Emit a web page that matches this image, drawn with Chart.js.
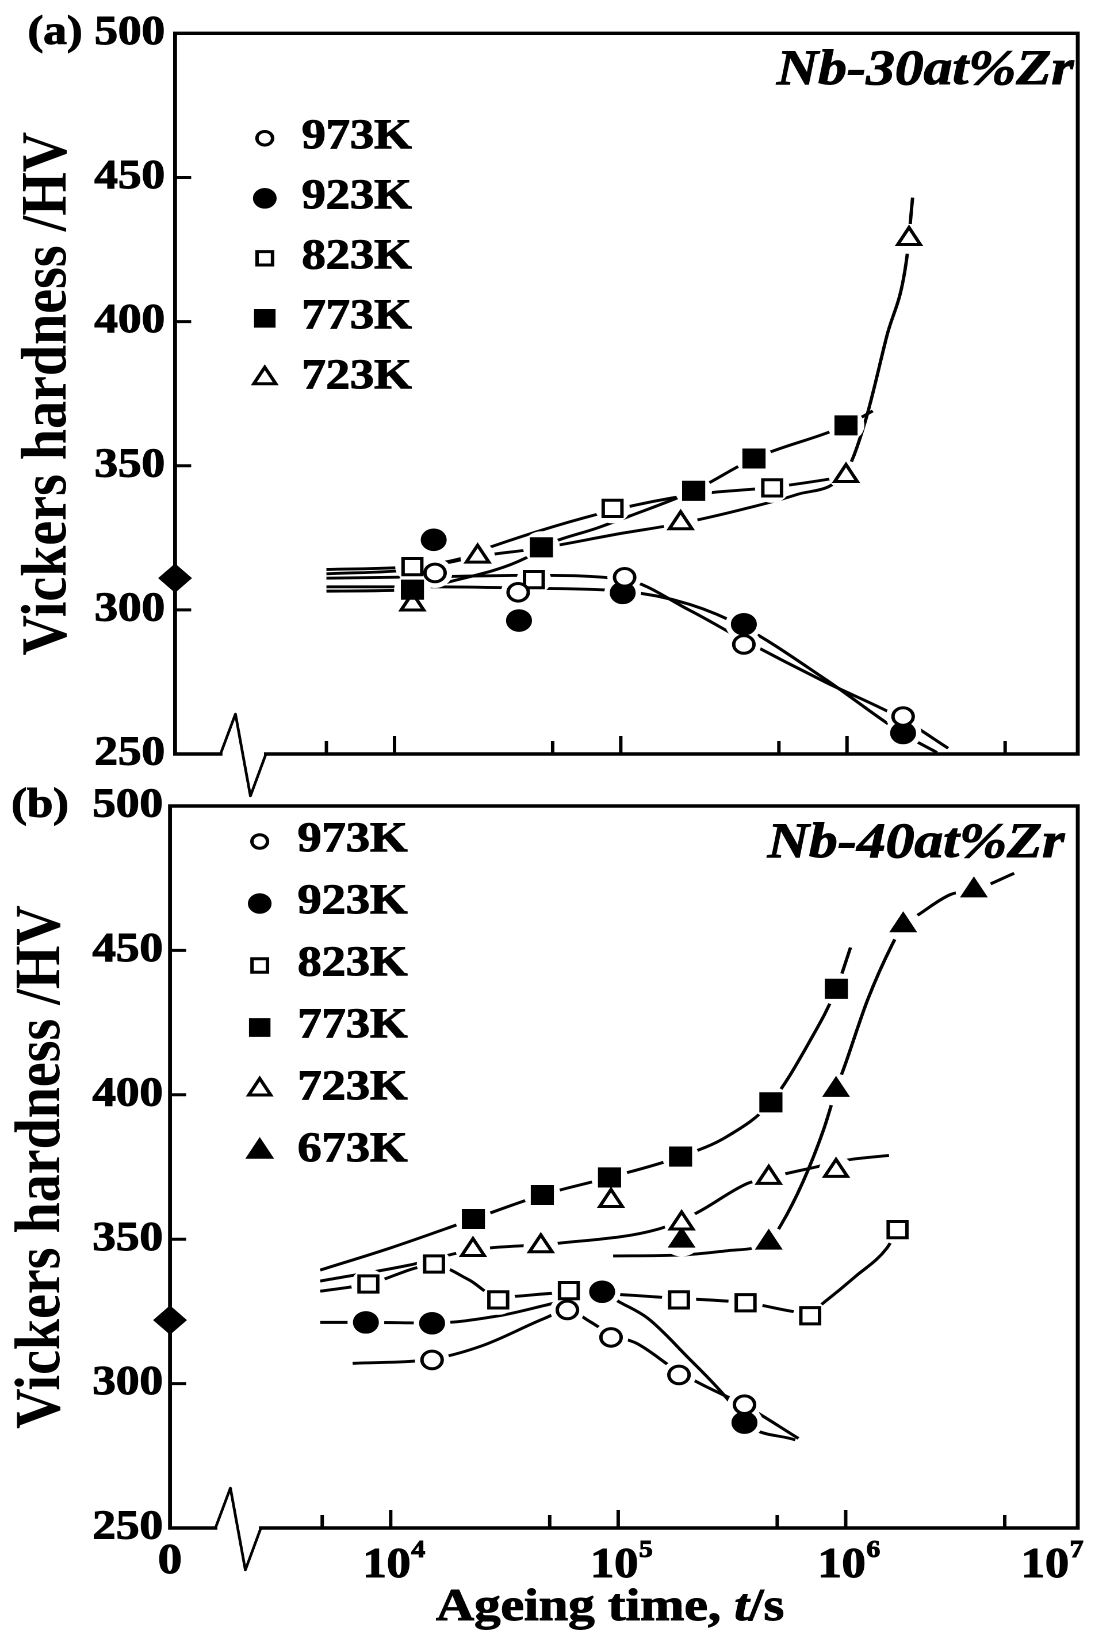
<!DOCTYPE html>
<html lang="en">
<head>
<meta charset="utf-8">
<title>Vickers hardness vs ageing time (Nb-Zr)</title>
<script src="https://cdn.jsdelivr.net/npm/chart.js@4.4.1/dist/chart.umd.min.js"></script>
<style>
  html, body { margin: 0; padding: 0; background: #fff; }
  body { position: relative; width: 1095px; height: 1640px; overflow: hidden; }
  canvas { position: absolute; left: 0; }
</style>
</head>
<body>
<canvas id="chartA" width="952" height="800" style="top:0px;width:1095px;height:800px"></canvas>
<canvas id="chartB" width="952" height="880" style="top:760px;width:1095px;height:880px"></canvas>
<script>
// ------------------------------------------------------------------
// DATA
// ------------------------------------------------------------------
const xTickValues = [5e3, 1e4, 5e4, 1e5, 5e5, 1e6, 5e6, 1e7];
const xTickLabels = ['', '10^4', '', '10^5', '', '10^6', '', '10^7'];
const xOriginLabel = '0';
const yTickValues = [250, 300, 350, 400, 450, 500];
const yTickLabels = ['250', '300', '350', '400', '450', '500'];
const yTitle = 'Vickers hardness /HV';
const xTitleParts = ['Ageing time, ', 't', '/s'];
const seriesA = ['973K', '923K', '823K', '773K', '723K'];
const seriesB = ['973K', '923K', '823K', '773K', '723K', '673K'];
const alloyA = 'Nb-30at%Zr';
const alloyB = 'Nb-40at%Zr';
const asQuenchedA = 311;   // hardness at t = 0 (diamond on the axis)
const asQuenchedB = 322;

// Panel (a) Nb-30at%Zr : measured points [t / s, HV]
const a973 = [[1.51e4, 312.8], [3.52e4, 306.1], [1.04e5, 311.3], [3.5e5, 288.0], [1.77e6, 263.0]];
const a923 = [[1.49e4, 324.3], [3.55e4, 296.3], [1.02e5, 305.9], [3.5e5, 295.0], [1.77e6, 257.3]];
const a823 = [[1.2e4, 315.0], [4.13e4, 310.5], [9.2e4, 335.2], [4.67e5, 342.3]];
const a773 = [[1.2e4, 307.0], [4.46e4, 321.7], [2.1e5, 341.3], [3.88e5, 352.5], [9.9e5, 364.0]];
const a723 = [[1.2e4, 301.9], [2.33e4, 318.5], [1.84e5, 330.1], [9.9e5, 346.5], [1.88e6, 428.7]];

// Panel (a) : hand-drawn trend curves
const a973Curve = [[5e3, 311], [1.5e4, 311.5], [4e4, 312], [1.04e5, 310.5], [2e5, 300], [3.5e5, 289.5], [8e5, 275], [1.77e6, 262], [2.8e6, 252]];
const a923Curve = [[5e3, 308], [1.5e4, 308], [4e4, 307.5], [1.02e5, 306.5], [2e5, 302], [3.5e5, 294], [8e5, 276], [1.77e6, 257], [2.5e6, 250.5]];
const a823Curve = [[5e3, 314], [1.2e4, 315], [2e4, 318], [2.7e4, 322], [9.2e4, 334.5], [2.1e5, 340], [4.67e5, 342.5], [9.5e5, 346]];
const a773Curve = [[5e3, 306.5], [1.2e4, 307], [1.7e4, 309.5], [3.8e4, 318], [4.46e4, 321.7], [8e4, 328.6], [1.1e5, 332.6], [2.1e5, 341.3], [3.88e5, 352.5], [9.9e5, 364], [1.3e6, 369]];
const a723Curve = [[5e3, 312.5], [1.2e4, 314], [2.33e4, 318.5], [4.5e4, 321.5], [1e5, 326.5], [1.84e5, 330], [3.5e5, 335], [6e5, 340], [9.9e5, 348], [1.2e6, 365], [1.5e6, 395], [1.83e6, 421], [1.95e6, 443]];

// Panel (b) Nb-40at%Zr : measured points [t / s, HV]
const b973 = [[1.52e4, 308.2], [5.98e4, 325.5], [9.3e4, 316.0], [1.85e5, 303.0], [3.59e5, 292.7]];
const b923 = [[7.78e3, 321.2], [1.52e4, 320.9], [8.5e4, 331.8], [3.59e5, 286.5]];
const b823 = [[7.98e3, 334.5], [1.55e4, 341.4], [2.97e4, 329.0], [6.07e4, 332.2], [1.85e5, 329.0], [3.63e5, 328.0], [6.98e5, 323.5], [1.69e6, 353.3]];
const b773 = [[2.31e4, 357.0], [4.64e4, 365.3], [9.16e4, 371.4], [1.88e5, 378.6], [4.69e5, 397.4], [9.1e5, 436.7]];
const b723 = [[2.3e4, 346.3], [4.57e4, 347.6], [9.3e4, 363.3], [1.9e5, 355.5], [4.59e5, 371.3], [9.07e5, 373.7]];
const b673 = [[1.9e5, 349.5], [4.59e5, 348.8], [9.07e5, 401.7], [1.79e6, 458.7], [3.66e6, 470.8]];

// Panel (b) : hand-drawn trend curves
const b973Curve = [[6.8e3, 307], [1.52e4, 308.5], [2.5e4, 313], [4.75e4, 322.6], [5.98e4, 325.5], [7.5e4, 321.5], [9.3e4, 317], [1.2e5, 314], [1.85e5, 304], [2.5e5, 298.5], [3.59e5, 292.5], [6.2e5, 281]];
const b923Curve = [[4.9e3, 321.2], [7.78e3, 321.2], [1.52e4, 321], [3e4, 323.5], [5e4, 327.5], [8.5e4, 331.8], [1e5, 328.5], [1.35e5, 322.6], [2e5, 309.5], [3.07e5, 294], [3.59e5, 286.5], [6e5, 280.5]];
const b823Curve = [[4.9e3, 332], [7.98e3, 334.5], [1.55e4, 341], [2.2e4, 336], [2.97e4, 330], [6.07e4, 331.5], [1.85e5, 329.5], [3.63e5, 328], [6.98e5, 324.5], [8e5, 328], [1.1e6, 337], [1.52e6, 347], [1.69e6, 353.3]];
const b773Curve = [[4.9e3, 339.3], [1e4, 347], [2.31e4, 357], [4.64e4, 365.3], [9.16e4, 371.4], [1.88e5, 378.6], [3e5, 385.5], [4.69e5, 397.4], [7e5, 419], [9.1e5, 436.7], [1.05e6, 451]];
const b723Curve = [[4.9e3, 335.5], [1.2e4, 341], [2.3e4, 346.3], [5.5e4, 348.6], [1.5e5, 353.5], [2.2e5, 359], [3.7e5, 369.3], [4.59e5, 371.3], [7.4e5, 375], [1.05e6, 377.6], [1.55e6, 379]];
const b673Curve = [[9.5e4, 344.2], [1.88e5, 344.5], [3e5, 346], [4.59e5, 349], [5.2e5, 355], [6.5e5, 370], [8e5, 388], [9.07e5, 401.7], [1e6, 411], [1.25e6, 433], [1.6e6, 452], [1.79e6, 458.7], [2.1e6, 462.5], [2.9e6, 469.4], [3.66e6, 470.8], [5.5e6, 476.7]];

// ------------------------------------------------------------------
// STYLE / LAYOUT
// ------------------------------------------------------------------
const FONT = '"Liberation Serif", "Times New Roman", Times, serif';
Chart.defaults.font.family = FONT;
Chart.defaults.color = '#000';

const X_MIN = Math.pow(10, 3.03);
const X_MAX = Math.pow(10, 7.02);
const BREAK = [39.5, 52.5, 65.5, 79];   // axis-break zigzag, offsets from left axis
const BREAK_UP = 40, BREAK_DOWN = 42;
const TEXT_STROKE = 0.9;                // slight emboldening of the bold serif

const markerStyle = {
  '973K': { pointStyle: 'circle',   filled: false, r: 8.8,  lr: 6.8,  halo: 15 },
  '923K': { pointStyle: 'circle',   filled: true,  r: 10.8, lr: 9.8,  halo: 16 },
  '823K': { pointStyle: 'rect',     filled: false, r: 11.5, lr: 9.5,  halo: 15 },
  '773K': { pointStyle: 'rect',     filled: true,  r: 13.5, lr: 12.5, halo: 16 },
  '723K': { pointStyle: 'triangle', filled: false, r: 11.3, lr: 11,   halo: 15 },
  '673K': { pointStyle: 'triangle', filled: true,  r: 13,   lr: 13.5, halo: 16 }
};

const toXY = arr => arr.map(p => ({ x: p[0], y: p[1] }));

function buildDatasets(labels, points, curves, asQuenched) {
  const ds = [];
  labels.forEach((lab, i) => {
    ds.push({
      kind: 'fit', label: lab + ' trend', data: toXY(curves[i]),
      borderColor: '#000', borderWidth: 2.9, pointRadius: 0,
      cubicInterpolationMode: 'monotone', fill: false, order: 2
    });
  });
  labels.forEach((lab, i) => {
    const st = markerStyle[lab];
    ds.push({
      kind: 'pts', label: lab, data: toXY(points[i]), showLine: false,
      pointStyle: st.pointStyle, pointRadius: st.r,
      pointBackgroundColor: st.filled ? '#000' : '#fff',
      pointBorderColor: '#000', pointBorderWidth: st.filled ? 1 : 3,
      filled: st.filled, legendRadius: st.lr, haloRadius: st.halo, order: 1
    });
  });
  ds.push({
    kind: 'start', label: 'as-quenched (t = 0)', data: [{ x: X_MIN, y: asQuenched }],
    showLine: false, pointStyle: 'rectRot', pointRadius: 14,
    pointBackgroundColor: '#000', pointBorderColor: '#000', pointBorderWidth: 1,
    clip: false, order: 0
  });
  return ds;
}

function drawSymbol(ctx, style, x, y, r, filled) {
  ctx.beginPath();
  if (style === 'circle') {
    ctx.arc(x, y, r, 0, Math.PI * 2);
  } else if (style === 'rect') {
    const s = r * Math.SQRT1_2;
    ctx.rect(x - s, y - s, 2 * s, 2 * s);
  } else {
    ctx.moveTo(x, y - r);
    ctx.lineTo(x + r * 0.866, y + r * 0.5);
    ctx.lineTo(x - r * 0.866, y + r * 0.5);
    ctx.closePath();
  }
  ctx.fillStyle = filled ? '#000' : '#fff';
  ctx.fill();
  ctx.lineWidth = filled ? 1 : 3;
  ctx.strokeStyle = '#000';
  ctx.stroke();
}

function boldText(ctx, txt, x, y) {
  ctx.fillText(txt, x, y);
  ctx.lineWidth = TEXT_STROKE;
  ctx.strokeStyle = '#000';
  ctx.strokeText(txt, x, y);
}

function makePanelPlugin(cfg) {
  return {
    id: 'panel',
    beforeDatasetsDraw(chart) {
      chart.$haloDone = false;
      const ctx = chart.ctx;
      const { left, right, top, bottom } = chart.chartArea;
      const xs = chart.scales.x, ys = chart.scales.y;
      ctx.save();
      ctx.strokeStyle = '#000';
      // frame
      ctx.lineWidth = 3.4; ctx.lineJoin = 'miter'; ctx.lineCap = 'square';
      ctx.beginPath();
      ctx.moveTo(left + BREAK[0], bottom);
      ctx.lineTo(left, bottom);
      ctx.lineTo(left, top);
      ctx.lineTo(right, top);
      ctx.lineTo(right, bottom);
      ctx.lineTo(left + BREAK[3], bottom);
      ctx.stroke();
      // axis break
      ctx.lineWidth = 2.4; ctx.lineJoin = 'round'; ctx.lineCap = 'round';
      ctx.beginPath();
      ctx.moveTo(left + BREAK[0], bottom);
      ctx.lineTo(left + BREAK[1], bottom - BREAK_UP);
      ctx.lineTo(left + BREAK[2], bottom + BREAK_DOWN);
      ctx.lineTo(left + BREAK[3], bottom);
      ctx.stroke();
      // inward ticks
      ctx.lineWidth = 3; ctx.lineCap = 'butt';
      ctx.beginPath();
      yTickValues.forEach(v => {
        const y = ys.getPixelForValue(v);
        if (y > top + 3 && y < bottom - 3) { ctx.moveTo(left, y); ctx.lineTo(left + 14, y); }
      });
      xTickValues.forEach(v => {
        const x = xs.getPixelForValue(v);
        if (x > left + BREAK[3] && x < right - 6) {
          const e = Math.log10(v);
          const major = Math.abs(e - Math.round(e)) < 1e-9;
          ctx.moveTo(x, bottom); ctx.lineTo(x, bottom - (major ? 18 : 13));
        }
      });
      ctx.stroke();
      ctx.restore();
    },
    beforeDatasetDraw(chart, args) {
      const ds = chart.data.datasets[args.index];
      if (ds.kind !== 'pts' || chart.$haloDone) return;
      chart.$haloDone = true;
      const ctx = chart.ctx;
      const { left, right, top, bottom } = chart.chartArea;
      ctx.save();
      ctx.beginPath();
      ctx.rect(left + 3, top + 3, right - left - 6, bottom - top - 6);
      ctx.clip();
      ctx.fillStyle = '#fff';
      chart.data.datasets.forEach((d, i) => {
        if (d.kind !== 'pts') return;
        chart.getDatasetMeta(i).data.forEach(el => {
          ctx.beginPath();
          ctx.arc(el.x, el.y, d.haloRadius, 0, Math.PI * 2);
          ctx.fill();
        });
      });
      ctx.restore();
    },
    afterDatasetsDraw(chart) {
      const ctx = chart.ctx;
      const { left, right, top, bottom } = chart.chartArea;
      const xs = chart.scales.x;
      ctx.save();
      ctx.textBaseline = 'alphabetic';
      // legend
      const pts = chart.data.datasets.filter(d => d.kind === 'pts');
      pts.forEach((d, i) => {
        const y = top + cfg.legendTop + i * cfg.legendGap;
        drawSymbol(ctx, d.pointStyle, left + cfg.legendX, y, d.legendRadius, d.filled);
        ctx.fillStyle = '#000';
        ctx.font = 'bold 42px ' + FONT;
        ctx.textAlign = 'left';
        boldText(ctx, d.label, left + cfg.legendTextX, y + 10);
      });
      // alloy name
      ctx.fillStyle = '#000';
      ctx.font = 'italic bold 50px ' + FONT;
      ctx.textAlign = 'right';
      boldText(ctx, cfg.name, right - cfg.nameRight, top + cfg.nameDy);
      // x tick labels and title
      if (cfg.xLabels) {
        const baseFont = 'bold 42px ' + FONT, supFont = 'bold 24px ' + FONT;
        xTickValues.forEach((v, i) => {
          const lab = xTickLabels[i];
          if (!lab) return;
          const [base, exp] = lab.split('^');
          const x = xs.getPixelForValue(v);
          ctx.font = baseFont; const wb = ctx.measureText(base).width;
          ctx.font = supFont; const we = ctx.measureText(exp).width;
          let bx = x - 3.5 - wb / 2;
          const over = bx + wb + 0.5 + we - (right + 5);
          if (over > 0) bx -= over;
          ctx.textAlign = 'left';
          ctx.font = baseFont; boldText(ctx, base, bx, bottom + 49);
          ctx.font = supFont; boldText(ctx, exp, bx + wb + 0.5, bottom + 29);
        });
        ctx.font = baseFont; ctx.textAlign = 'center';
        boldText(ctx, xOriginLabel, left, bottom + 45);
        const fonts = ['bold 46px ' + FONT, 'italic bold 46px ' + FONT, 'bold 46px ' + FONT];
        let total = 0;
        xTitleParts.forEach((t, i) => { ctx.font = fonts[i]; total += ctx.measureText(t).width; });
        let tx = (left + right) / 2 - 12 - total / 2;
        ctx.textAlign = 'left';
        xTitleParts.forEach((t, i) => { ctx.font = fonts[i]; boldText(ctx, t, tx, bottom + 92); tx += ctx.measureText(t).width; });
      }
      ctx.restore();
    }
  };
}

function makeChart(id, datasets, o) {
  return new Chart(document.getElementById(id), {
    type: 'line',
    data: { datasets },
    options: {
      responsive: false,
      devicePixelRatio: 2,
      animation: false,
      events: [],
      layout: { padding: o.padding },
      scales: {
        x: { type: 'logarithmic', min: X_MIN, max: X_MAX, display: false },
        y: {
          type: 'linear', min: 250, max: 500,
          afterBuildTicks: s => { s.ticks = yTickValues.map(v => ({ value: v })); },
          ticks: {
            font: { size: 41, weight: 'bold' }, color: '#000', padding: o.tickPad,
            textStrokeColor: '#000', textStrokeWidth: TEXT_STROKE,
            callback: (v) => {
              const lab = yTickLabels[yTickValues.indexOf(v)];
              return v === 500 ? o.panelTag + lab : lab;
            }
          },
          grid: { display: false, drawTicks: false },
          border: { display: false },
          title: {
            display: true, text: yTitle, color: '#000',
            font: { size: 56, weight: 'bold' },
            padding: { top: o.titlePad, bottom: 0 }
          },
          afterFit: s => { s.width = o.axisLeft; }
        }
      },
      plugins: { legend: { display: false }, tooltip: { enabled: false } }
    },
    plugins: [makePanelPlugin(o.panel)]
  });
}

makeChart('chartA',
  buildDatasets(seriesA, [a973, a923, a823, a773, a723],
    [a973Curve, a923Curve, a823Curve, a773Curve, a723Curve], asQuenchedA),
  {
    padding: { left: 0, right: 7.7, top: 31, bottom: 46 },
    axisLeft: 152.2, tickPad: 8.7, titlePad: 8.7, panelTag: '(a) ',
    panel: { name: alloyA, nameRight: 3.5, nameDy: 50.7, legendX: 78, legendTextX: 110,
             legendTop: 105, legendGap: 60, xLabels: false }
  });

makeChart('chartB',
  buildDatasets(seriesB, [b973, b923, b823, b773, b723, b673],
    [b973Curve, b923Curve, b823Curve, b773Curve, b723Curve, b673Curve], asQuenchedB),
  {
    padding: { left: 0, right: 12, top: 46, bottom: 112 },
    axisLeft: 147.8, tickPad: 6, titlePad: 3.6, panelTag: '(b)  ',
    panel: { name: alloyB, nameRight: 11.5, nameDy: 51, legendX: 78, legendTextX: 110.8,
             legendTop: 35.5, legendGap: 62, xLabels: true }
  });
</script>
</body>
</html>
